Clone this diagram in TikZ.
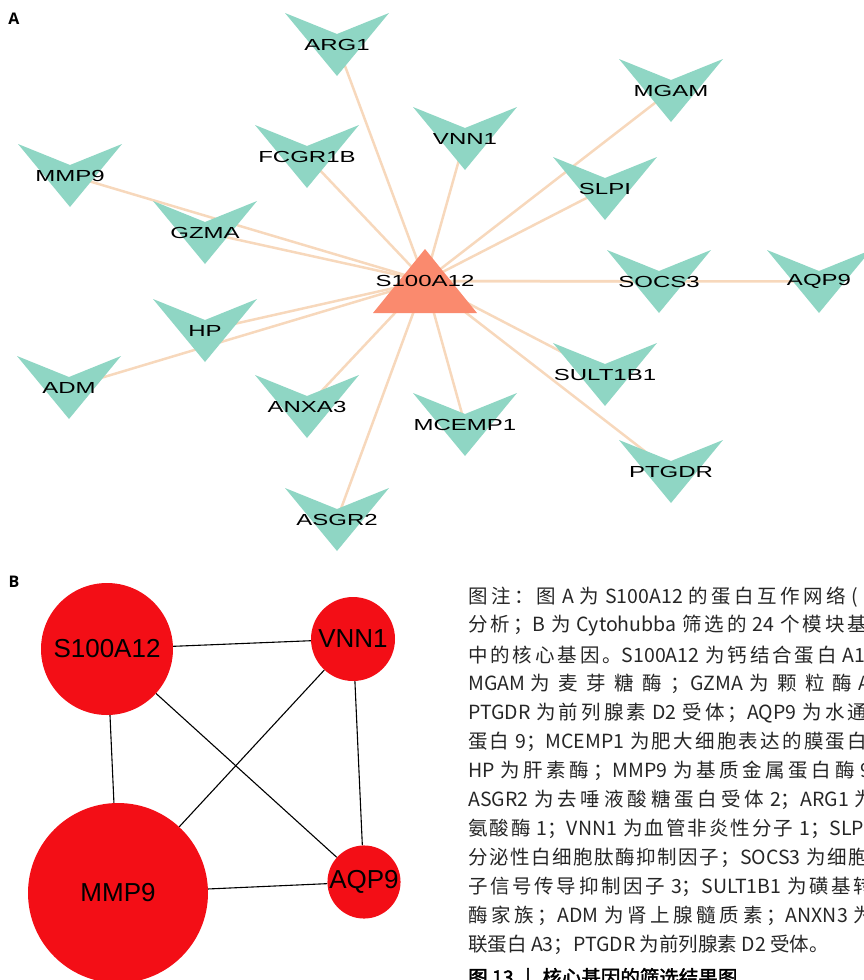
\documentclass[tikz,border=0pt]{standalone}
\usepackage{fontspec}
\usetikzlibrary{backgrounds}

\newfontfamily\netfont[FakeStretch=1.5]{Liberation Sans}
\newfontfamily\hubfont{Liberation Sans}
\newfontfamily\capfont{Noto Sans CJK SC}
\newfontfamily\capbold[FakeBold=2]{Noto Sans CJK SC}
\newfontfamily\panelfont{Open Sans}

% stretchable glue between CJK characters (for the justified caption lines)
\newXeTeXintercharclass\cjkclass
\newcount\cjkcnt
\cjkcnt="3000
\loop\ifnum\cjkcnt<"A000 \XeTeXcharclass\cjkcnt=\cjkclass \advance\cjkcnt by 1 \repeat
\cjkcnt="FF00
\loop\ifnum\cjkcnt<"FFF0 \XeTeXcharclass\cjkcnt=\cjkclass \advance\cjkcnt by 1 \repeat
\XeTeXinterchartoks\cjkclass\cjkclass={\hskip0pt plus 1fil minus 0.6pt}
\XeTeXinterchartokenstate=1

% one justified caption line
\newcommand\capbox[2]{\makebox[#1][s]{\spaceskip=0.3em plus 0.05em minus 0.05em\relax #2}}

\definecolor{veecol}{RGB}{143,214,196}
\definecolor{tricol}{RGB}{250,138,110}
\definecolor{edgecol}{RGB}{247,216,188}
\definecolor{hubred}{RGB}{243,14,22}

\begin{document}
\begin{tikzpicture}[x=1pt, y=-1pt,
    gene/.style={font=\netfont\fontsize{16}{16}\selectfont, inner sep=0pt},
    ppi/.style={draw=edgecol, line width=2.5pt},
    hub/.style={circle, fill=hubred, inner sep=0pt, font=\hubfont\fontsize{26}{26}\selectfont},
    hubedge/.style={draw=black, line width=1.1pt},
    panel/.style={font=\panelfont\bfseries\fontsize{16}{16}\selectfont, inner sep=0pt},
    capline/.style={anchor=west, inner sep=0pt, text=black!85, font=\capfont\fontsize{19.5}{24}\selectfont}]

    \useasboundingbox (0,0) rectangle (864,980);
    \clip (0,0) rectangle (864,980);

    % A: interaction network around S100A12
    \node[panel] (labA) at (14,19) {A};

    \foreach \nm/\x/\y/\txt in {arg1/337/44.5/ARG1, mmp9/70/175.5/MMP9,
        fcgr1b/307/156.5/FCGR1B, gzma/205/232.5/GZMA, vnn1/465/138.5/VNN1,
        mgam/671/90.5/MGAM, slpi/605/188.5/SLPI, socs3/659/281.5/SOCS3,
        aqp9/819/281.5/AQP9, hp/205/330.5/HP, adm/69/387.5/ADM,
        anxa3/307/406.5/ANXA3, asgr2/337/519.5/ASGR2, mcemp1/465/424.5/MCEMP1,
        sult1b1/605/374.5/SULT1B1, ptgdr/671/471.5/PTGDR}{
        \fill[veecol] (\x,\y) ++(-52,-31.5) -- ++(52,21) -- ++(52,-21) -- ++(-52,63) -- cycle;
        \node[gene] (\nm) at (\x,\y) {\txt};
    }

    \fill[tricol] (425,249) -- (477,313) -- (373,313) -- cycle;
    \node[gene] (s100) at (425,281) {S100A12};

    \begin{scope}[on background layer]
        \foreach \nm in {arg1, mmp9, fcgr1b, gzma, vnn1, mgam, slpi, socs3,
            aqp9, hp, adm, anxa3, asgr2, mcemp1, sult1b1, ptgdr}
            \draw[ppi] (s100.center) -- (\nm.center);
    \end{scope}

    % B: hub genes
    \node[panel] (labB) at (14,582) {B};

    \node[hub, minimum size=132pt] (b100) at (107,649) {S100A12};
    \node[hub, minimum size=84pt] (bvnn1) at (353,639) {VNN1};
    \node[hub, minimum size=180pt] (bmmp9) at (118,893) {MMP9};
    \node[hub, minimum size=70pt] (baqp9) at (364,882) {AQP9};

    \begin{scope}[on background layer]
        \draw[hubedge] (b100) -- (bvnn1);
        \draw[hubedge] (b100) -- (bmmp9);
        \draw[hubedge] (b100) -- (baqp9);
        \draw[hubedge] (bvnn1) -- (bmmp9);
        \draw[hubedge] (bvnn1) -- (baqp9);
        \draw[hubedge] (bmmp9) -- (baqp9);
    \end{scope}

    % caption
    \node[capline] (cap0) at (468,597) {\capbox{390pt}{图注：图 A 为 S100A12 的蛋白互作网络 (}};
    \node[capline] (cap1) at (468,626) {\capbox{399pt}{分析；B 为 Cytohubba 筛选的 24 个模块基}};
    \node[capline] (cap2) at (468,655) {\capbox{397pt}{中的核心基因。S100A12 为钙结合蛋白 A1}};
    \node[capline] (cap3) at (468,684) {\capbox{402pt}{MGAM 为麦芽糖酶；GZMA 为颗粒酶 A}};
    \node[capline] (cap4) at (468,713) {\capbox{399pt}{PTGDR 为前列腺素 D2 受体；AQP9 为水通}};
    \node[capline] (cap5) at (468,742) {\capbox{399pt}{蛋白 9；MCEMP1 为肥大细胞表达的膜蛋白}};
    \node[capline] (cap6) at (468,771) {\capbox{403pt}{HP 为肝素酶；MMP9 为基质金属蛋白酶 9}};
    \node[capline] (cap7) at (468,800) {\capbox{406pt}{ASGR2 为去唾液酸糖蛋白受体 2；ARG1 为}};
    \node[capline] (cap8) at (468,829) {\capbox{396pt}{氨酸酶 1；VNN1 为血管非炎性分子 1；SLP}};
    \node[capline] (cap9) at (468,858) {\capbox{400pt}{分泌性白细胞肽酶抑制因子；SOCS3 为细胞}};
    \node[capline] (cap10) at (468,887) {\capbox{405pt}{子信号传导抑制因子 3；SULT1B1 为磺基转}};
    \node[capline] (cap11) at (468,916) {\capbox{405pt}{酶家族；ADM 为肾上腺髓质素；ANXN3 为}};
    \node[capline] (cap12) at (468,945) {联蛋白 A3；PTGDR 为前列腺素 D2 受体。};
    \node[capline, font=\capbold\fontsize{19.5}{24}\selectfont, text=black] (cap13) at (468,979)
        {图 13\hspace{0.6em}|\hspace{0.6em}核心基因的筛选结果图};
\end{tikzpicture}
\end{document}
